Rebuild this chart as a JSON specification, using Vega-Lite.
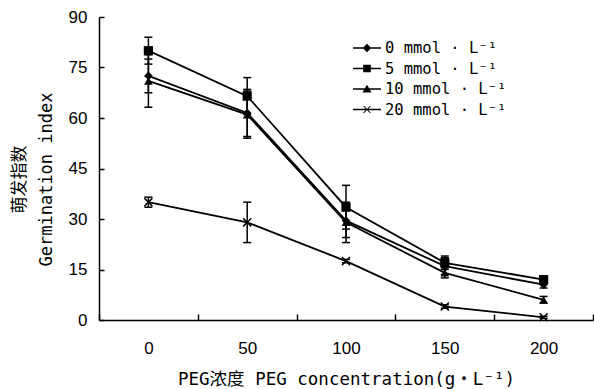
{
  "$schema": "https://vega.github.io/schema/vega-lite/v6.json",
  "width": 494,
  "height": 303,
  "autosize": {"type": "none"},
  "padding": {"left": 99, "top": 17, "right": 1, "bottom": 69},
  "background": "white",
  "config": {
    "view": {"stroke": null},
    "axis": {
      "domainColor": "black", "domainWidth": 1.5, "tickColor": "black", "tickWidth": 1.5,
      "labelColor": "black", "titleColor": "black", "labelFont": "Liberation Sans", "labelFontSize": 17,
      "titleFont": "DejaVu Sans Mono, Noto Sans CJK SC", "titleFontSize": 17, "titleFontWeight": "normal", "grid": false
    }
  },
  "data": {"values": [
    {"peg": 0, "series": "0 mmol · L⁻¹", "gi": 72.5, "lo": 67.5, "hi": 77.5},
    {"peg": 50, "series": "0 mmol · L⁻¹", "gi": 61.5, "lo": 54.5, "hi": 68.5},
    {"peg": 100, "series": "0 mmol · L⁻¹", "gi": 29.5, "lo": 24.5, "hi": 34.5},
    {"peg": 150, "series": "0 mmol · L⁻¹", "gi": 16, "lo": 13.5, "hi": 18.5},
    {"peg": 200, "series": "0 mmol · L⁻¹", "gi": 10.5, "lo": 9.5, "hi": 11.5},
    {"peg": 0, "series": "5 mmol · L⁻¹", "gi": 80, "lo": 76, "hi": 84},
    {"peg": 50, "series": "5 mmol · L⁻¹", "gi": 66.5, "lo": 61, "hi": 72},
    {"peg": 100, "series": "5 mmol · L⁻¹", "gi": 33.5, "lo": 27, "hi": 40},
    {"peg": 150, "series": "5 mmol · L⁻¹", "gi": 17, "lo": 15, "hi": 19},
    {"peg": 200, "series": "5 mmol · L⁻¹", "gi": 12, "lo": 11, "hi": 13},
    {"peg": 0, "series": "10 mmol · L⁻¹", "gi": 71, "lo": 63.2, "hi": 78.8},
    {"peg": 50, "series": "10 mmol · L⁻¹", "gi": 61, "lo": 54, "hi": 68},
    {"peg": 100, "series": "10 mmol · L⁻¹", "gi": 29, "lo": 23, "hi": 35},
    {"peg": 150, "series": "10 mmol · L⁻¹", "gi": 14, "lo": 12.5, "hi": 15.5},
    {"peg": 200, "series": "10 mmol · L⁻¹", "gi": 6, "lo": 5, "hi": 7},
    {"peg": 0, "series": "20 mmol · L⁻¹", "gi": 35, "lo": 33.5, "hi": 36.5},
    {"peg": 50, "series": "20 mmol · L⁻¹", "gi": 29, "lo": 23, "hi": 35},
    {"peg": 100, "series": "20 mmol · L⁻¹", "gi": 17.5, "lo": 17, "hi": 18},
    {"peg": 150, "series": "20 mmol · L⁻¹", "gi": 4, "lo": 3.5, "hi": 4.5},
    {"peg": 200, "series": "20 mmol · L⁻¹", "gi": 0.8, "lo": 0.5, "hi": 1.1}
  ]},
  "encoding": {
    "x": {
      "field": "peg", "type": "ordinal",
      "scale": {"type": "band", "paddingInner": 0, "paddingOuter": 0},
      "axis": {
        "title": "PEG浓度 PEG concentration(g・L⁻¹)", "labelAngle": 0, "tickBand": "extent",
        "tickSize": -6, "labelPadding": 26, "titleY": 50, "titleFontSize": 17.5
      }
    }
  },
  "layer": [
    {
      "mark": {"type": "rule", "color": "black", "strokeWidth": 1.5},
      "encoding": {
        "y": {
          "field": "lo", "type": "quantitative",
          "scale": {"domain": [0, 90], "nice": false},
          "axis": {
            "title": ["萌发指数", "Germination index"], "values": [0, 15, 30, 45, 60, 75, 90],
            "tickSize": -5, "labelPadding": 17, "titleX": -71, "titleY": 162, "titleLineHeight": 27
          }
        },
        "y2": {"field": "hi"},
        "detail": {"field": "series"}
      }
    },
    {
      "mark": {"type": "tick", "color": "black", "thickness": 1.5, "size": 8, "opacity": 1},
      "encoding": {"y": {"field": "lo", "type": "quantitative"}, "detail": {"field": "series"}}
    },
    {
      "mark": {"type": "tick", "color": "black", "thickness": 1.5, "size": 8, "opacity": 1},
      "encoding": {"y": {"field": "hi", "type": "quantitative"}, "detail": {"field": "series"}}
    },
    {
      "mark": {"type": "line", "color": "black", "strokeWidth": 1.8},
      "encoding": {"y": {"field": "gi", "type": "quantitative"}, "detail": {"field": "series"}}
    },
    {
      "transform": [{"filter": {"field": "series", "equal": "0 mmol · L⁻¹"}}],
      "mark": {"type": "point", "shape": "diamond", "filled": true, "opacity": 1, "color": "black", "size": 75},
      "encoding": {"y": {"field": "gi", "type": "quantitative"}}
    },
    {
      "transform": [{"filter": {"field": "series", "equal": "5 mmol · L⁻¹"}}],
      "mark": {"type": "point", "shape": "square", "filled": true, "opacity": 1, "color": "black", "size": 85},
      "encoding": {"y": {"field": "gi", "type": "quantitative"}}
    },
    {
      "transform": [{"filter": {"field": "series", "equal": "10 mmol · L⁻¹"}}],
      "mark": {"type": "point", "shape": "triangle-up", "filled": true, "opacity": 1, "color": "black", "size": 75},
      "encoding": {"y": {"field": "gi", "type": "quantitative"}}
    },
    {
      "transform": [{"filter": {"field": "series", "equal": "20 mmol · L⁻¹"}}],
      "mark": {"type": "point", "shape": "M-1,-1L1,1M-1,1L1,-1", "filled": false, "opacity": 1, "color": "black", "strokeWidth": 1.5, "size": 65},
      "encoding": {"y": {"field": "gi", "type": "quantitative"}}
    },
    {
      "transform": [{"filter": "datum.gi < -1000"}],
      "mark": {"type": "point", "filled": true, "opacity": 1, "color": "black"},
      "encoding": {
        "y": {"field": "gi", "type": "quantitative"},
        "shape": {
          "field": "series", "type": "nominal",
          "scale": {
            "domain": ["0 mmol · L⁻¹", "5 mmol · L⁻¹", "10 mmol · L⁻¹", "20 mmol · L⁻¹"],
            "range": [
              "M-2,-0.11H2V0.11H-2Z M0,-0.6L0.6,0L0,0.6L-0.6,0Z",
              "M-2,-0.11H2V0.11H-2Z M-0.55,-0.55H0.55V0.55H-0.55Z",
              "M-2,-0.11H2V0.11H-2Z M0,-0.6L0.65,0.5L-0.65,0.5Z",
              "M-2,-0.11H2V0.11H-2Z M-0.45,-0.55L0.55,0.45L0.45,0.55L-0.55,-0.45Z M-0.55,0.45L0.45,-0.55L0.55,-0.45L-0.45,0.55Z"
            ]
          },
          "legend": {
            "orient": "none", "legendX": 260, "legendY": 23, "title": null,
            "labelFont": "DejaVu Sans Mono", "labelFontSize": 15.5, "labelColor": "black",
            "symbolSize": 196, "symbolFillColor": "black", "symbolStrokeColor": "transparent",
            "symbolOpacity": 1, "labelOffset": 10, "rowPadding": 3.5
          }
        }
      }
    }
  ]
}
